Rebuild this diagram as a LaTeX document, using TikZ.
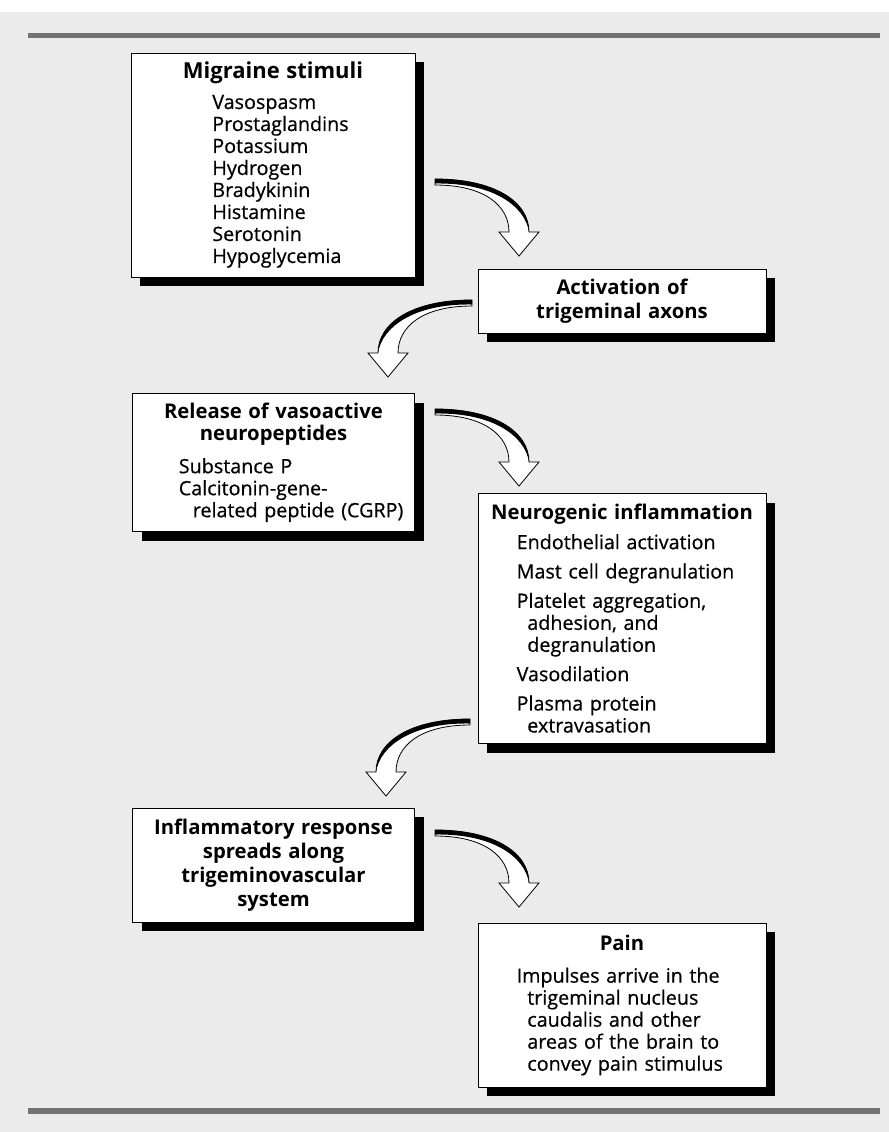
\documentclass[tikz,border=0pt]{standalone}
\usepackage{fontspec}
\setmainfont{Open Sans}[UprightFeatures={FakeBold=0.6}]
\usetikzlibrary{shadows}

\newcommand{\boxhead}[1]{{\centering\bfseries\fontsize{15.2}{\baselineskip}\selectfont #1\par}}
\newcommand{\hangentry}[2]{\par\hangindent=#1\hangafter=1 #2\par}

\tikzset{
  stepbox/.style={draw=black, line width=0.7pt, fill=white, inner sep=0pt,
    align=left, font=\fontsize{14.8}{16.5}\selectfont,
    drop shadow={shadow xshift=7pt, shadow yshift=-7pt, fill=black, opacity=1}},
  pics/bendarrow/.style={code={
    \fill[white, draw=black, line width=0.6pt, line join=miter]
      (0,-3) .. controls (60,-3) and (94,20) .. (94,50)
      -- (104,50) -- (84,74) -- (64,50) -- (74,50)
      .. controls (74,24) and (50,3) .. (0,3) -- cycle;
    \fill[black] (0,-3.2) .. controls (60,-3.2) and (94,20) .. (94,50)
      .. controls (90,24) and (58,0.5) .. (0,1.5) -- cycle;
  }}
}

\begin{document}
\begin{tikzpicture}[x=0.75pt, y=-0.75pt]
	\useasboundingbox (0,0) rectangle (889,1132);
	\fill[black!8] (0,12) rectangle (889,1132);
	\fill[black!55] (28,33) rectangle (880,38);
	\fill[black!55] (28,1108) rectangle (880,1114);

	% left column
	\node[stepbox, minimum width=213pt, minimum height=168pt, text width=213pt] (stimuli) at (273,165) {%
		\parskip=0pt{\centering\bfseries\fontsize{16.5}{16.5}\selectfont Migraine stimuli\par}\vspace{6pt}
		\leftskip=61pt Vasospasm\\Prostaglandins\\Potassium\\Hydrogen\\Bradykinin\\Histamine\\Serotonin\\Hypoglycemia\par};
	\node[stepbox, minimum width=212pt, minimum height=104pt, text width=212pt] (release) at (273.5,462.5) {%
		\parskip=0pt\boxhead{Release of vasoactive\\neuropeptides}\vspace{8pt}
		\leftskip=35pt Substance P
		\hangentry{10.5pt}{Calcitonin-gene-\newline related peptide (CGRP)}};
	\node[stepbox, minimum width=212pt, minimum height=85.5pt, text width=212pt,
		font=\fontsize{14.8}{18}\selectfont] (spread) at (273.5,865) {%
		\boxhead{Inflammatory response\\spreads along\\trigeminovascular\\system}};

	% right column
	\node[stepbox, minimum width=216pt, minimum height=48pt, text width=216pt,
		font=\fontsize{14.8}{18}\selectfont] (axons) at (622,301) {%
		\boxhead{Activation of\\trigeminal axons}};
	\node[stepbox, minimum width=216pt, minimum height=187pt, text width=216pt] (neuro) at (622,618.5) {%
		\parskip=5.5pt\boxhead{Neurogenic inflammation}
		\leftskip=29pt Endothelial activation
		\hangentry{8pt}{Mast cell degranulation}
		\hangentry{8pt}{Platelet aggregation,\newline adhesion, and\newline degranulation}
		\hangentry{8pt}{Vasodilation}
		\hangentry{8pt}{Plasma protein\newline extravasation}};
	\node[stepbox, minimum width=216pt, minimum height=123pt, text width=216pt] (pain) at (622,1005) {%
		\parskip=0pt\boxhead{Pain}\vspace{8pt}
		\leftskip=29pt
		\hangentry{8pt}{Impulses arrive in the\newline trigeminal nucleus\newline caudalis and other\newline areas of the brain to\newline convey pain stimulus}};

	% bent arrows between the boxes
	\coordinate (a1) at (435,182);
	\coordinate (a2) at (472,303);
	\coordinate (a3) at (435,412);
	\coordinate (a4) at (470,722);
	\coordinate (a5) at (435,833);
	\pic at (a1) {bendarrow};
	\pic[xscale=-1] at (a2) {bendarrow};
	\pic at (a3) {bendarrow};
	\pic[xscale=-1] at (a4) {bendarrow};
	\pic at (a5) {bendarrow};
\end{tikzpicture}
\end{document}
